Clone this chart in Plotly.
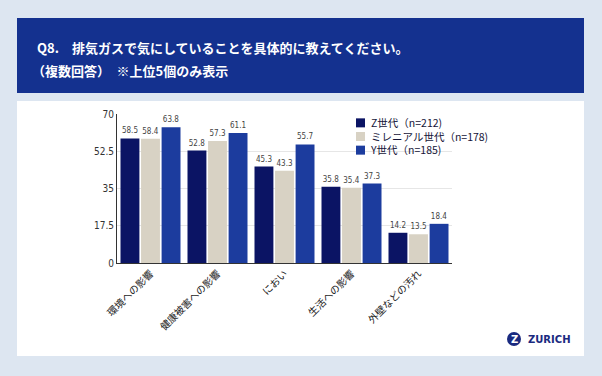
import plotly.graph_objects as go

categories = ["環境への影響", "健康被害への影響", "におい", "生活への影響", "外壁などの汚れ"]
series_names = ["Z世代（n=212)", "ミレニアル世代（n=178)", "Y世代（n=185)"]
z_vals = [58.5, 52.8, 45.3, 35.8, 14.2]
m_vals = [58.4, 57.3, 43.3, 35.4, 13.5]
y_vals = [63.8, 61.1, 55.7, 37.3, 18.4]
tick_vals = [0, 17.5, 35, 52.5, 70]
tick_text = ["0", "17.5", "35", "52.5", "70"]
colors = ["#0b1464", "#d8d2c4", "#1c3c9e"]

W, H = 602, 376
font = "Noto Sans CJK JP"

fig = go.Figure()
for name, vals, c in zip(series_names, [z_vals, m_vals, y_vals], colors):
    fig.add_trace(go.Bar(
        x=categories, y=vals, name=name, marker_color=c,
        marker_line_width=0,
        text=[f"{v:.1f}" for v in vals], textposition="outside",
        textfont=dict(size=8, color="#444444", family="DejaVu Sans Condensed"),
        cliponaxis=False, showlegend=False,
    ))

def px(x):
    return x / W

def py(y):
    return 1 - y / H

shapes = [
    dict(type="rect", xref="paper", yref="paper", x0=px(17), x1=px(584), y0=py(93), y1=py(18),
         fillcolor="#14318f", line_width=0, layer="below"),
    dict(type="rect", xref="paper", yref="paper", x0=px(17), x1=px(584), y0=py(356), y1=py(101),
         fillcolor="#ffffff", line_width=0, layer="below"),
    dict(type="circle", xref="paper", yref="paper", x0=px(507), x1=px(521), y0=py(346), y1=py(332),
         fillcolor="#1a2a80", line_width=0),
]

annotations = [
    dict(text="<b>Q8.　排気ガスで気にしていることを具体的に教えてください。</b>", xref="paper", yref="paper",
         x=px(35), y=py(47), xanchor="left", yanchor="middle", showarrow=False,
         font=dict(size=13, color="white", family=font)),
    dict(text="<b>（複数回答）　※上位5個のみ表示</b>", xref="paper", yref="paper",
         x=px(30), y=py(70), xanchor="left", yanchor="middle", showarrow=False,
         font=dict(size=13, color="white", family=font)),
    dict(text="<b>Z</b>", xref="paper", yref="paper", x=px(514), y=py(339), xanchor="center",
         yanchor="middle", showarrow=False, font=dict(size=10, color="white", family="DejaVu Sans")),
    dict(text="<b>ZURICH</b>", xref="paper", yref="paper", x=px(526), y=py(339), xanchor="left",
         yanchor="middle", showarrow=False, font=dict(size=10, color="#1a2a80", family="DejaVu Sans")),
]

# manual compact legend: one multi-line text block plus colour swatches
leg_center = 136.5
leg_font = 10.5
line_h = leg_font * 1.3
leg_y = [leg_center - line_h, leg_center, leg_center + line_h]
for c, yy in zip(colors, leg_y):
    shapes.append(dict(type="rect", xref="paper", yref="paper", x0=px(356), x1=px(365),
                       y0=py(yy + 4.5), y1=py(yy - 4.5), fillcolor=c, line_width=0))
annotations.append(dict(text="<br>".join(series_names), xref="paper", yref="paper",
                        x=px(368), y=py(leg_center), xanchor="left", yanchor="middle",
                        align="left", showarrow=False,
                        font=dict(size=leg_font, color="#141438", family=font)))

fig.update_layout(
    width=W, height=H, margin=dict(l=0, r=0, t=0, b=0),
    paper_bgcolor="#dde6f1", plot_bgcolor="rgba(0,0,0,0)",
    barmode="group", bargap=0.08, bargroupgap=0.08,
    shapes=shapes, annotations=annotations,
    font=dict(family=font),
    showlegend=False,
    xaxis=dict(domain=[px(117), px(452)], tickangle=-45, showline=True, linecolor="#333333",
               linewidth=1, tickfont=dict(size=10, color="#222222", family=font), ticks="",
               automargin=False),
    yaxis=dict(domain=[py(263), py(114)], range=[0, 70], tickvals=tick_vals, ticktext=tick_text,
               showline=True, linecolor="#333333", linewidth=1, gridcolor="#e6e6e6",
               tickfont=dict(size=10, color="#333333", family="DejaVu Sans Condensed"), ticks="",
               zeroline=False, automargin=False),
)

fig.write_html("out.html", config={"displayModeBar": False},
               post_script="document.body.style.margin='0';document.body.style.overflow='hidden';")
